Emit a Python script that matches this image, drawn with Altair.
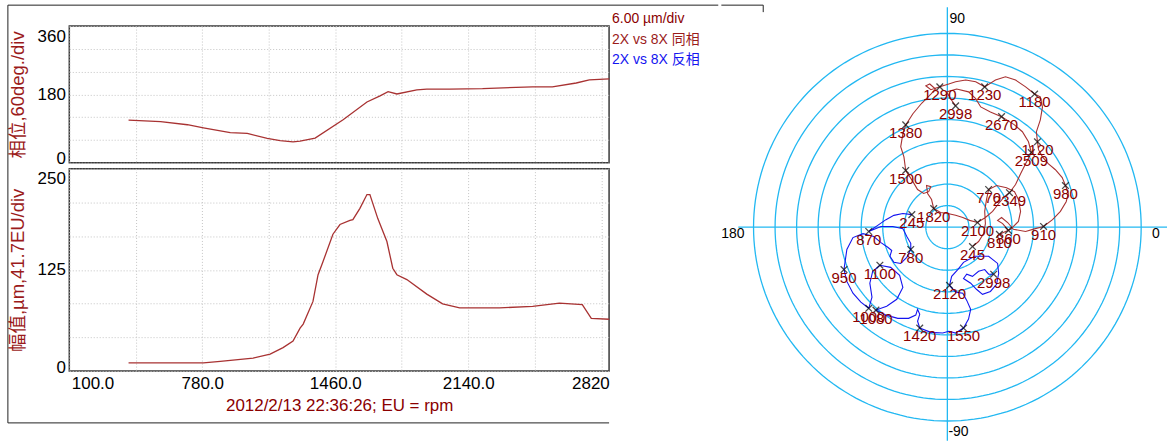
import altair as alt
import pandas as pd
import numpy as np

FONT = "Liberation Sans, Arial, Noto Sans CJK SC, sans-serif"
TEXT_RED = "#8B0000"
TITLE_RED = "#9B1B1B"
LINE_RED = "#A83232"
BLUE = "#1414F0"
CYAN = "#22B8F2"

# ---------------- left charts data ----------------
phase_rpm = [403, 567, 704, 786, 923, 1010, 1112, 1178, 1244, 1280, 1357, 1500, 1622,
             1689, 1730, 1775, 1877, 1928, 2045, 2213, 2468, 2570, 2692, 2759, 2861]
phase_deg = [112, 108, 100, 92, 79, 77, 64, 58, 55, 57, 65, 113, 160,
             176, 187, 181, 192, 194, 194, 195, 200, 200, 210, 218, 221]

amp_rpm = [403, 786, 872, 1040, 1127, 1193, 1244, 1280, 1296, 1346, 1372, 1397, 1448,
           1484, 1535, 1550, 1586, 1622, 1637, 1678, 1724, 1754, 1775, 1826, 1928,
           2009, 2096, 2300, 2469, 2606, 2723, 2769, 2861]
amp_val = [10, 10, 12, 16, 21, 29, 37, 53, 58, 86, 119, 135, 169,
           181, 186, 187, 201, 218, 218, 188, 160, 127, 119, 113, 95,
           83, 78, 78, 80, 84, 82, 65, 64]

x_grid = [100, 440, 780, 1120, 1460, 1800, 2140, 2480, 2820]
phase_grid = [0, 60, 120, 180, 240, 300, 360]
amp_grid = [0, 41.6667, 83.3333, 125, 166.6667, 208.3333, 250]

legend_texts = ["6.00 µm/div", "2X vs 8X 同相", "2X vs 8X 反相"]
legend_colors = [TEXT_RED, TITLE_RED, BLUE]

# ---------------- polar data (µm) ----------------
red_x = [7.0, 8.7, 10.1, 10.6, 10.4, 10.9, 11.5, 13.7, 16.5, 18.7, 19.8, 20.4, 19.8, 17.6,
         14.5, 17.0, 15.4, 14.0, 15.1, 16.8, 18.4, 21.8, 24.5, 26.8, 29.3, 31.5, 33.1, 33.7,
         32.9, 32.0, 30.1, 28.1, 26.5, 25.4, 25.1, 24.8, 25.9, 26.5, 25.9, 24.3, 21.8, 19.0,
         16.2, 13.4, 10.4, 7.9, 5.1, 2.3, 0.4, -2.1, -4.6, -6.0, -4.9, -3.3, -4.6, -7.1,
         -9.6, -11.6, -12.4, -13.0, -12.1, -11.6, -9.6, -8.3, -6.6, -5.2, -4.6, -5.8, -5.5,
         -4.4, -3.8, -1.9, 0.1, 2.3, 4.3, 6.2, 8.4, 10.6, 12.6, 14.3, 15.9, 17.3, 19.0, 20.4,
         21.8, 23.4, 22.6, 20.9, 18.7, 15.1, 12.0, 9.3, 7.9, 5.9, 2.6, -0.2, 0.9, 2.3]
red_y = [-5.4, -4.0, -1.8, 1.0, 4.4, 7.7, 10.5, 11.6, 11.0, 9.9, 7.7, 4.4, 1.6, -0.6,
         -2.0, -0.9, 1.0, 1.9, 2.7, 1.3, -0.6, -1.2, -0.4, 0.2, 2.1, 4.4, 7.1, 9.4,
         11.6, 13.8, 16.0, 17.7, 19.6, 21.6, 23.8, 26.6, 29.9, 33.5, 36.3, 37.1, 39.1, 41.0,
         41.9, 41.0, 39.1, 40.5, 41.0, 40.5, 39.9, 39.1, 38.3, 39.4, 39.9, 38.5, 37.1, 34.6,
         31.6, 28.5, 26.0, 22.4, 19.6, 15.8, 12.7, 10.5, 9.4, 9.9, 11.3, 11.6, 9.4,
         7.7, 5.2, 4.1, 3.8, 3.3, 2.7, 1.9, 1.3, 2.7, 4.4, 6.6, 8.5, 9.6, 11.9, 14.9,
         17.7, 20.8, 23.8, 26.6, 28.5, 30.8, 32.1, 33.5, 35.8, 37.7, 38.5, 37.7, 35.8, 33.8]
red_mark_idx = [0, 6, 14, 15, 23, 28, 34, 39, 44, 49, 57, 61, 70, 76, 81, 85, 89, 97]
red_mark_lbl = ["245", "770", "810", "860", "910", "980", "1120", "1180", "1230", "1290",
                "1380", "1500", "1820", "2100", "2349", "2509", "2670", "2998"]

blue_x = [-9.9, -12.4, -14.9, -17.1, -19.4, -21.9, -18.5, -15.2, -12.4, -11.3, -10.2, -10.2,
          -11.3, -13.0, -14.9, -16.0, -15.5, -16.6, -18.5, -20.5, -23.5, -26.3, -28.0, -28.8,
          -28.0, -26.3, -24.1, -21.9, -21.0, -21.6, -20.8, -18.8, -15.8, -13.3, -12.4, -14.1,
          -16.9, -19.9, -17.1, -13.8, -10.8, -8.8, -8.3, -7.7, -8.3, -7.7, -4.6, -1.3, 0.4,
          2.3, 4.5, 5.9, 6.5, 5.4, 4.3, 2.3, 0.6, 1.2, 2.9, 4.5, 7.6, 11.5, 14.0, 14.3, 13.7,
          12.0, 9.8, 8.1, 6.5, 4.5, 5.4, 7.0, 8.7, 10.4, 11.5, 12.9]
blue_y = [3.5, 3.8, 3.3, 2.1, 0.5, -1.2, 0.2, 0.2, -0.4, -2.6, -4.5, -6.2,
          -8.4, -10.1, -9.8, -8.1, -6.5, -5.6, -4.3, -2.6, -1.8, -2.9, -6.2, -11.8,
          -15.1, -18.4, -20.9, -22.6, -19.5, -15.6, -12.3, -10.6, -11.2, -13.4, -16.8, -20.1,
          -22.0, -23.1, -24.5, -25.4, -25.4, -24.5, -22.9, -24.3, -26.2, -28.1, -29.3, -29.5, -29.0,
          -29.5, -28.1, -25.6, -22.9, -20.4, -18.4, -18.1, -16.2, -13.7, -11.8, -9.8, -8.1, -8.1,
          -10.1, -12.9, -15.9, -17.9, -18.7, -17.3, -15.6, -14.3, -13.1, -13.7, -12.3, -11.8,
          -13.1, -13.1]
blue_mark_idx = [0, 5, 11, 23, 27, 31, 37, 45, 50, 56, 75]
blue_mark_lbl = ["245", "870", "780", "950", "1000", "1100", "1080", "1420", "1550", "2120", "2998"]

ring_radii = [6, 12, 18, 24, 30, 36, 42, 48, 54]
angle_lbl = ["0", "90", "180", "-90"]
angle_lbl_x = [57.0, 0.6, -63.0, 0.3]
angle_lbl_y = [-1.8, 57.9, -1.8, -57.2]
axis_line_x = [-58.25, 0.0]
axis_line_x2 = [61.2, 0.0]
axis_line_y = [0.0, 61.3]
axis_line_y2 = [0.0, -59.5]

# ---------------- layout constants ----------------
W = 541.4
PH_H = 137
AMP_H = 203

one = pd.DataFrame({"k": [0]})
x_scale = alt.Scale(domain=[100, 2860], nice=False, zero=False)
grid_kw = dict(grid=True, gridColor="#C4C4C4", gridDash=[1, 2], gridWidth=1)
panel_view = alt.ViewBackground(stroke="#3a3a3a", strokeWidth=1.5)

# ---------------- phase panel ----------------
phase_df = pd.DataFrame({"rpm": phase_rpm, "deg": phase_deg})
phase_line = alt.Chart(phase_df).mark_line(color=LINE_RED, strokeWidth=1.3).encode(
    x=alt.X("rpm:Q", scale=x_scale,
            axis=alt.Axis(values=x_grid, labels=False, ticks=False, domain=False, title=None, **grid_kw)),
    y=alt.Y("deg:Q", scale=alt.Scale(domain=[0, 360], nice=False),
            axis=alt.Axis(values=phase_grid,
                          labelExpr="datum.value % 180 == 0 ? datum.label : ''",
                          labelOffset={"expr": "datum.value == 360 ? 10 : (datum.value == 0 ? -4 : 0)"},
                          ticks=False, domain=False, labelFontSize=17, labelPadding=4,
                          labelColor="#000000", labelFont=FONT,
                          title="相位,60deg./div", titleColor=TITLE_RED, titleFontSize=18.5,
                          titleFontWeight="normal", titleFont=FONT, titleX=-51.6, titleY=68.5,
                          titleAngle=270, titleAlign="center", titleBaseline="middle",
                          **grid_kw)),
)

frame_left = alt.Chart(one).mark_rule(color="#222222", strokeWidth=1).encode(
    x=alt.value(-61.6), y=alt.value(-21), y2=alt.value(398))
frame_top = alt.Chart(one).mark_rule(color="#222222", strokeWidth=1).encode(
    x=alt.value(-61.6), x2=alt.value(650.9), y=alt.value(-21))
frame_bottom = alt.Chart(one).mark_rule(color="#222222", strokeWidth=1).encode(
    x=alt.value(-61.6), x2=alt.value(541.4), y=alt.value(398))

legend_layers = []
for k, (t, c) in enumerate(zip(legend_texts, legend_colors)):
    legend_layers.append(
        alt.Chart(one).mark_text(align="left", baseline="middle", fontSize=14, font=FONT, color=c).encode(
            x=alt.value(544.4), y=alt.value(-7 + 20.5 * k), text=alt.value(t)))

phase = alt.layer(phase_line, frame_left, frame_top, frame_bottom, *legend_layers).properties(
    width=W, height=PH_H, view=panel_view)

# ---------------- amplitude panel ----------------
amp_df = pd.DataFrame({"rpm": amp_rpm, "amp": amp_val})
amp = alt.Chart(amp_df).mark_line(color=LINE_RED, strokeWidth=1.3).encode(
    x=alt.X("rpm:Q", scale=x_scale,
            axis=alt.Axis(values=x_grid,
                          labelExpr="datum.value == 2820 ? '2820' : (datum.value % 680 == 100 ? format(datum.value, '.1f') : '')",
                          labelAlign={"expr": "datum.value == 100 ? 'left' : (datum.value == 2820 ? 'right' : 'center')"},
                          labelOffset={"expr": "datum.value == 100 ? 2 : (datum.value == 2820 ? 8 : 0)"},
                          ticks=False, domain=False, labelFontSize=17, labelPadding=5,
                          labelColor="#000000", labelFont=FONT,
                          title="2012/2/13 22:36:26; EU = rpm", titleColor=TEXT_RED, titleFontSize=17,
                          titleFontWeight="normal", titleFont=FONT, titleY=35, titleBaseline="middle",
                          **grid_kw)),
    y=alt.Y("amp:Q", scale=alt.Scale(domain=[0, 250], nice=False),
            axis=alt.Axis(values=amp_grid, format="d",
                          labelExpr="datum.value == 0 || datum.value == 125 || datum.value == 250 ? datum.label : ''",
                          labelOffset={"expr": "datum.value == 250 ? 10 : (datum.value == 0 ? -4 : 0)"},
                          ticks=False, domain=False, labelFontSize=17, labelPadding=4,
                          labelColor="#000000", labelFont=FONT,
                          title="幅值,µm,41.7EU/div", titleColor=TITLE_RED, titleFontSize=18.5,
                          titleFontWeight="normal", titleFont=FONT, titleX=-51.6, titleY=101.5,
                          titleAngle=270, titleAlign="center", titleBaseline="middle",
                          **grid_kw)),
).properties(width=W, height=AMP_H, view=panel_view)

# ---------------- polar panel ----------------
PX = alt.Scale(domain=[-62.97, 62.03], nice=False, zero=False)
PY = alt.Scale(domain=[-59.53, 56.03], nice=False, zero=False)

ang = np.arange(0, 361, 2)
rings = pd.DataFrame([
    {"r": r, "i": k, "x": r * np.cos(np.radians(a)), "y": r * np.sin(np.radians(a))}
    for r in ring_radii for k, a in enumerate(ang)
])
ring_layer = alt.Chart(rings).mark_line(color=CYAN, strokeWidth=1.3).encode(
    x=alt.X("x:Q", scale=PX, axis=None), y=alt.Y("y:Q", scale=PY, axis=None),
    detail="r:N", order="i:Q")

axes_df = pd.DataFrame({"x": axis_line_x, "x2": axis_line_x2, "y": axis_line_y, "y2": axis_line_y2})
axes_layer = alt.Chart(axes_df).mark_rule(color=CYAN, strokeWidth=1.3).encode(
    x=alt.X("x:Q", scale=PX, axis=None), x2="x2:Q",
    y=alt.Y("y:Q", scale=PY, axis=None), y2="y2:Q")

ang_df = pd.DataFrame({"t": angle_lbl, "x": angle_lbl_x, "y": angle_lbl_y})
ang_layer = alt.Chart(ang_df).mark_text(align="left", baseline="middle", fontSize=14, font=FONT,
                                        color="#000000").encode(
    x=alt.X("x:Q", scale=PX, axis=None), y=alt.Y("y:Q", scale=PY, axis=None), text="t:N")

red_df = pd.DataFrame({"i": range(len(red_x)), "x": red_x, "y": red_y})
blue_df = pd.DataFrame({"i": range(len(blue_x)), "x": blue_x, "y": blue_y})
red_layer = alt.Chart(red_df).mark_line(color=LINE_RED, strokeWidth=1.1).encode(
    x=alt.X("x:Q", scale=PX, axis=None), y=alt.Y("y:Q", scale=PY, axis=None), order="i:Q")
blue_layer = alt.Chart(blue_df).mark_line(color=BLUE, strokeWidth=1.1).encode(
    x=alt.X("x:Q", scale=PX, axis=None), y=alt.Y("y:Q", scale=PY, axis=None), order="i:Q")

marks_df = pd.DataFrame({
    "x": [red_x[i] for i in red_mark_idx] + [blue_x[i] for i in blue_mark_idx],
    "y": [red_y[i] for i in red_mark_idx] + [blue_y[i] for i in blue_mark_idx],
    "lbl": red_mark_lbl + blue_mark_lbl,
})
marker_layer = alt.Chart(marks_df).mark_point(
    shape="M-1,-1L1,1M-1,1L1,-1", size=45, filled=False, color="#000000", strokeWidth=1.3).encode(
    x=alt.X("x:Q", scale=PX, axis=None), y=alt.Y("y:Q", scale=PY, axis=None))
label_layer = alt.Chart(marks_df).mark_text(
    align="center", baseline="middle", dy=8.5, fontSize=15, font=FONT, color=TEXT_RED).encode(
    x=alt.X("x:Q", scale=PX, axis=None), y=alt.Y("y:Q", scale=PY, axis=None), text="lbl:N")

# continuation of the outer frame of the left block (top edge and its end tick)
pframe_top = alt.Chart(one).mark_rule(color="#222222", strokeWidth=1).encode(
    x=alt.value(0), x2=alt.value(42), y=alt.value(-21))
pframe_tick = alt.Chart(one).mark_rule(color="#222222", strokeWidth=1).encode(
    x=alt.value(42), y=alt.value(-21), y2=alt.value(-14))

polar = alt.layer(ring_layer, axes_layer, ang_layer, blue_layer, red_layer, marker_layer, label_layer,
                  pframe_top, pframe_tick).properties(width=450, height=416)

# ---------------- compose ----------------
left = alt.vconcat(phase, amp, spacing=6, bounds="flush")
chart = alt.hconcat(left, polar, spacing=0, bounds="full").properties(
    padding={"left": 6.5, "top": 2.5, "right": 0, "bottom": 0},
    background="#ffffff",
).configure_view(stroke="transparent")

chart.save("out.html", embed_options={"renderer": "svg", "actions": False})
